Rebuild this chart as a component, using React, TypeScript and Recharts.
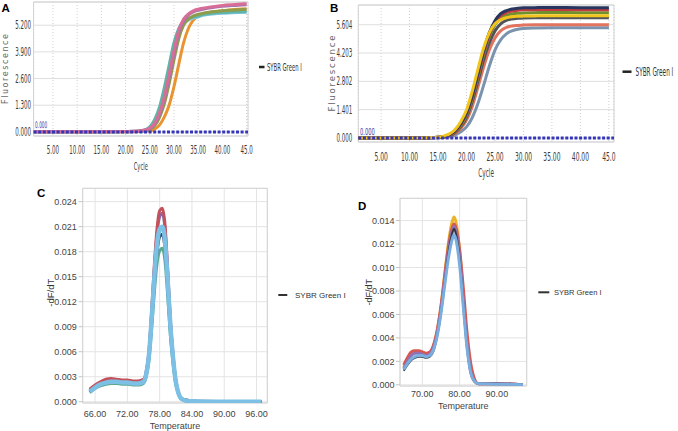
import React from 'react';
import {
  LineChart,
  Line,
  XAxis,
  YAxis,
  CartesianGrid,
  ReferenceLine,
  ReferenceArea,
} from 'recharts';

// ---------- A: amplification curves ----------
const cyclesA = [1, 5, 10, 15, 20, 22, 23, 24, 25, 26, 27, 28, 29, 30, 31, 32, 33, 34, 35, 36, 38, 40, 42, 45];
const ampAOrange = [0.01, 0.01, 0.01, 0.01, 0.01, 0.01, 0.02, 0.03, 0.05, 0.13, 0.33, 0.72, 1.3, 2.2, 3.3, 4.35, 5.05, 5.45, 5.65, 5.75, 5.85, 5.9, 5.95, 6.0];
const ampALightBlue = [0.01, 0.01, 0.01, 0.01, 0.01, 0.02, 0.04, 0.08, 0.2, 0.5, 1.05, 1.95, 3.05, 4.15, 4.95, 5.3, 5.45, 5.55, 5.6, 5.68, 5.74, 5.78, 5.8, 5.83];
const ampATeal = [0.01, 0.01, 0.01, 0.01, 0.02, 0.03, 0.05, 0.1, 0.25, 0.6, 1.2, 2.15, 3.25, 4.35, 5.05, 5.38, 5.52, 5.6, 5.65, 5.72, 5.78, 5.82, 5.84, 5.86];
const ampAOlive = [0.01, 0.01, 0.01, 0.01, 0.01, 0.02, 0.03, 0.06, 0.12, 0.3, 0.7, 1.35, 2.35, 3.5, 4.55, 5.2, 5.5, 5.65, 5.73, 5.78, 5.85, 5.9, 5.93, 5.97];
const ampAPurple = [0.01, 0.01, 0.01, 0.01, 0.02, 0.03, 0.04, 0.08, 0.16, 0.38, 0.85, 1.6, 2.65, 3.8, 4.85, 5.4, 5.7, 5.85, 5.93, 5.98, 6.06, 6.12, 6.16, 6.2];
const ampAPink = [0.01, 0.01, 0.01, 0.01, 0.02, 0.03, 0.05, 0.09, 0.18, 0.42, 0.92, 1.7, 2.8, 3.95, 4.95, 5.5, 5.75, 5.9, 5.98, 6.03, 6.1, 6.16, 6.2, 6.25];
const cycleTicks = [5, 10, 15, 20, 25, 30, 35, 40, 45];
const fluorTicksA = [0, 1.3, 2.6, 3.9, 5.2];

// ---------- B: amplification curves ----------
const cyclesB = [1, 5, 10, 13, 14, 15, 16, 17, 18, 19, 20, 21, 22, 23, 24, 25, 26, 27, 28, 29, 30, 32, 35, 40, 45];
const ampBBlueGray = [0, 0, 0, 0, 0.01, 0.01, 0.03, 0.06, 0.14, 0.3, 0.55, 1.0, 1.7, 2.6, 3.55, 4.35, 4.85, 5.15, 5.3, 5.38, 5.42, 5.44, 5.45, 5.45, 5.45];
const ampBSalmon = [0, 0, 0, 0, 0.01, 0.02, 0.04, 0.1, 0.22, 0.47, 0.88, 1.55, 2.5, 3.5, 4.35, 4.95, 5.3, 5.47, 5.54, 5.57, 5.59, 5.6, 5.6, 5.6, 5.6];
const ampBGray = [0, 0, 0, 0, 0.01, 0.02, 0.05, 0.12, 0.27, 0.56, 1.02, 1.8, 2.8, 3.85, 4.7, 5.3, 5.65, 5.82, 5.89, 5.92, 5.94, 5.95, 5.95, 5.95, 5.95];
const ampBOlive = [0, 0, 0, 0.01, 0.02, 0.03, 0.06, 0.14, 0.3, 0.62, 1.12, 1.95, 3.0, 4.1, 5.0, 5.6, 5.92, 6.07, 6.13, 6.17, 6.19, 6.2, 6.21, 6.2, 6.2];
const ampBRed = [0, 0, 0, 0.01, 0.02, 0.03, 0.07, 0.15, 0.33, 0.68, 1.2, 2.05, 3.1, 4.2, 5.1, 5.7, 6.05, 6.2, 6.28, 6.32, 6.34, 6.35, 6.36, 6.35, 6.35];
const ampBNavy = [0, 0, 0, 0.01, 0.02, 0.03, 0.07, 0.16, 0.36, 0.72, 1.25, 2.1, 3.2, 4.3, 5.2, 5.8, 6.15, 6.3, 6.38, 6.42, 6.44, 6.45, 6.46, 6.45, 6.45];
const ampBYellow = [0, 0, 0, 0.01, 0.02, 0.04, 0.09, 0.2, 0.42, 0.82, 1.38, 2.3, 3.4, 4.45, 5.2, 5.65, 5.85, 5.95, 6.0, 6.02, 6.03, 6.04, 6.05, 6.05, 6.05];
const fluorTicksB = [0, 1.401, 2.802, 4.203, 5.604];

// ---------- C: melt curves ----------
const tempsC = [65, 66, 67, 68, 69, 70, 71, 72, 73, 74, 75, 75.5, 76, 76.5, 77, 77.5, 78, 78.5, 79, 79.5, 80, 80.5, 81, 81.5, 82, 83, 84, 86, 90, 96.9];
const meltCGreen = [0.0011, 0.0016, 0.0019, 0.0021, 0.0022, 0.0022, 0.0021, 0.0021, 0.002, 0.002, 0.0022, 0.003, 0.0049, 0.0087, 0.013, 0.0165, 0.0181, 0.0184, 0.0168, 0.0126, 0.0079, 0.0045, 0.0021, 0.0009, 0.0003, 0.0001, 0, 0, 0, 0];
const meltCNavy = [0.0012, 0.0017, 0.0021, 0.0023, 0.0024, 0.0024, 0.0023, 0.0023, 0.0022, 0.0022, 0.0024, 0.0032, 0.0053, 0.0094, 0.0141, 0.0179, 0.0198, 0.0201, 0.0183, 0.0137, 0.0085, 0.0049, 0.0023, 0.001, 0.0004, 0.0002, 0.0001, 0.00005, 0.00003, 0];
const meltCPurple = [0.0014, 0.0019, 0.0023, 0.0026, 0.0027, 0.0026, 0.0025, 0.0025, 0.0024, 0.0024, 0.0026, 0.0035, 0.0058, 0.0105, 0.0158, 0.0201, 0.0222, 0.0226, 0.0206, 0.0153, 0.0095, 0.0054, 0.0025, 0.001, 0.0004, 0.0001, 0.00005, 0, 0, 0];
const meltCRed = [0.0015, 0.002, 0.0024, 0.0027, 0.0028, 0.0027, 0.0026, 0.0026, 0.0025, 0.0025, 0.0027, 0.0036, 0.006, 0.0108, 0.0163, 0.0207, 0.0229, 0.0232, 0.0212, 0.0158, 0.0098, 0.0056, 0.0026, 0.0011, 0.0004, 0.0001, 0.00005, 0, 0, 0];
const meltCLightBlue = [0.0012, 0.0017, 0.0021, 0.0023, 0.0024, 0.0024, 0.0023, 0.0023, 0.0022, 0.0022, 0.0024, 0.0033, 0.0055, 0.0098, 0.0148, 0.0188, 0.0207, 0.021, 0.0192, 0.0144, 0.009, 0.0052, 0.0024, 0.001, 0.0004, 0.0001, 0.00005, 0, 0, 0];
const tempTicksC = [66, 72, 78, 84, 90, 96];
const dfTicksC = [0, 0.003, 0.006, 0.009, 0.012, 0.015, 0.018, 0.021, 0.024];

// ---------- D: melt curves ----------
const tempsD = [65, 66, 67, 68, 69, 70, 71, 72, 73, 74, 75, 76, 77, 78, 78.5, 79, 80, 81, 82, 83, 84, 85, 86, 90, 95, 97];
const meltDYellow = [0.0015, 0.0021, 0.0026, 0.0028, 0.0028, 0.0027, 0.0026, 0.0027, 0.0033, 0.0046, 0.0067, 0.0094, 0.0121, 0.0139, 0.0143, 0.0139, 0.0115, 0.0075, 0.0036, 0.0012, 0.0003, 0.0001, 0.0001, 0.0001, 0.00005, 0];
const meltDRed = [0.0017, 0.0023, 0.0028, 0.0029, 0.0029, 0.0028, 0.0027, 0.0028, 0.0034, 0.0047, 0.0067, 0.0093, 0.0118, 0.0134, 0.0137, 0.0134, 0.0115, 0.0082, 0.0044, 0.0018, 0.0005, 0.0001, 0.0001, 0.0001, 0.00005, 0];
const meltDPurple = [0.0014, 0.002, 0.0025, 0.0027, 0.0027, 0.0026, 0.0025, 0.0026, 0.0032, 0.0044, 0.0064, 0.0089, 0.0114, 0.0131, 0.0135, 0.0131, 0.0109, 0.0071, 0.0034, 0.0011, 0.0003, 0.0001, 0.0001, 0.0001, 0.00005, 0];
const meltDBlack = [0.0012, 0.0017, 0.0021, 0.0023, 0.0024, 0.0024, 0.0023, 0.0024, 0.0029, 0.0042, 0.0062, 0.0087, 0.0112, 0.0129, 0.0133, 0.0129, 0.0107, 0.0069, 0.0032, 0.001, 0.0003, 0.0001, 0.0001, 0.0001, 0.00005, 0];
const meltDBlue = [0.0013, 0.0018, 0.0022, 0.0024, 0.0025, 0.0025, 0.0024, 0.0025, 0.003, 0.0042, 0.0061, 0.0085, 0.0108, 0.0124, 0.0128, 0.0124, 0.0102, 0.0066, 0.0031, 0.001, 0.0003, 0.0001, 0.0001, 0.00005, 0.00003, 0];
const tempTicksD = [70, 80, 90];
const dfTicksD = [0, 0.002, 0.004, 0.006, 0.008, 0.01, 0.012, 0.014];

type Series = { key: string; color: string; values: number[]; width?: number };

const seriesA: Series[] = [
  { key: 'orange', color: '#e99431', values: ampAOrange },
  { key: 'lightBlue', color: '#86c7e3', values: ampALightBlue },
  { key: 'teal', color: '#5fb5a8', values: ampATeal },
  { key: 'olive', color: '#8f9c4c', values: ampAOlive },
  { key: 'purple', color: '#a273ad', values: ampAPurple },
  { key: 'pink', color: '#d86d98', values: ampAPink },
];
const seriesB: Series[] = [
  { key: 'blueGray', color: '#7a93ae', values: ampBBlueGray },
  { key: 'salmon', color: '#e1735f', values: ampBSalmon },
  { key: 'gray', color: '#505459', values: ampBGray },
  { key: 'olive', color: '#70902d', values: ampBOlive },
  { key: 'red', color: '#c23c40', values: ampBRed },
  { key: 'navy', color: '#28365f', values: ampBNavy },
  { key: 'yellow', color: '#f1c51b', values: ampBYellow },
];
const seriesC: Series[] = [
  { key: 'green', color: '#5aa98c', values: meltCGreen },
  { key: 'navy', color: '#34425f', values: meltCNavy },
  { key: 'purple', color: '#8b67a8', values: meltCPurple },
  { key: 'red', color: '#c4505a', values: meltCRed },
  { key: 'lightBlue', color: '#7cc0e6', values: meltCLightBlue, width: 4.5 },
];
const seriesD: Series[] = [
  { key: 'yellow', color: '#eab42a', values: meltDYellow },
  { key: 'red', color: '#d8574f', values: meltDRed },
  { key: 'purple', color: '#9270b2', values: meltDPurple },
  { key: 'black', color: '#333845', values: meltDBlack, width: 2 },
  { key: 'blue', color: '#79aede', values: meltDBlue },
];

const buildRows = (xs: number[], xKey: string, series: Series[]) =>
  xs.map((x, i) => {
    const row: Record<string, number> = { [xKey]: x };
    series.forEach((s) => {
      row[s.key] = s.values[i];
    });
    return row;
  });

const rowsA = buildRows(cyclesA, 'cycle', seriesA);
const rowsB = buildRows(cyclesB, 'cycle', seriesB);
const rowsC = buildRows(tempsC, 'temp', seriesC);
const rowsD = buildRows(tempsD, 'temp', seriesD);

const DEJAVU = "'DejaVu Sans', sans-serif";
const PLAIN = "'Liberation Sans', Arial, sans-serif";

// the instrument software in A/B prints in a tall, very narrow face:
// draw DejaVu and scale it horizontally
type SqProps = {
  x: number;
  y: number;
  sx: number;
  size: number;
  anchor?: 'start' | 'middle' | 'end';
  dy?: string;
  fill?: string;
  children: React.ReactNode;
};
const Squeezed = ({ x, y, sx, size, anchor = 'start', dy, fill = '#3a3a3a', children }: SqProps) => (
  <g transform={`translate(${x},${y}) scale(${sx},1)`}>
    <text x={0} y={0} dy={dy} textAnchor={anchor} fontSize={size} fontFamily={DEJAVU} fill={fill}>
      {children}
    </text>
  </g>
);

const squeezeTick = (fmt: (v: number) => string, sx: number, anchor: 'end' | 'middle', dy: string) =>
  (props: any) => (
    <Squeezed x={props.x} y={props.y} sx={sx} size={11.5} anchor={anchor} dy={dy}>
      {fmt(props.payload.value)}
    </Squeezed>
  );

const plainTick = (fmt: (v: number) => string, anchor: 'end' | 'middle', dy: string) =>
  (props: any) => (
    <text x={props.x} y={props.y} dy={dy} textAnchor={anchor} fontSize={9} fontFamily={PLAIN} fill="#444">
      {fmt(props.payload.value)}
    </text>
  );

const cycleFmt = (v: number) => (v === 45 ? '45.0' : v.toFixed(2));

const renderLines = (series: Series[], w: number) =>
  series.map((s) => (
    <Line
      key={s.key}
      type="monotone"
      dataKey={s.key}
      stroke={s.color}
      strokeWidth={s.width ?? w}
      dot={false}
      isAnimationActive={false}
    />
  ));

const Overlay = () => (
  <svg width={678} height={431} style={{ position: 'absolute', left: 0, top: 0, pointerEvents: 'none' }}>
    <g fontFamily={PLAIN} fontWeight="bold" fontSize={11.5} fill="#000">
      <text x={1.5} y={11.7}>A</text>
      <text x={330} y={11.7}>B</text>
      <text x={37} y={196.7}>C</text>
      <text x={358} y={210}>D</text>
    </g>
    {/* legends */}
    <line x1={259} x2={264.5} y1={67} y2={67} stroke="#222" strokeWidth={2.5} />
    <Squeezed x={267} y={67} sx={0.48} size={11} dy="0.35em" fill="#333">
      SYBR Green I
    </Squeezed>
    <line x1={622.5} x2={631.5} y1={71.7} y2={71.7} stroke="#222" strokeWidth={2.5} />
    <Squeezed x={635.5} y={71.7} sx={0.5} size={11.5} dy="0.35em" fill="#333">
      SYBR Green I
    </Squeezed>
    <line x1={278.3} x2={287.3} y1={295} y2={295} stroke="#333" strokeWidth={2} />
    <text x={295} y={295} dy="0.35em" fontSize={8} fontFamily={PLAIN} fill="#333">
      SYBR Green I
    </text>
    <line x1={538.3} x2={549.3} y1={292.3} y2={292.3} stroke="#333" strokeWidth={2} />
    <text x={554} y={292.3} dy="0.35em" fontSize={7.5} fontFamily={PLAIN} fill="#333">
      SYBR Green I
    </text>
  </svg>
);

export default function App() {
  return (
    <div style={{ position: 'absolute', left: 0, top: 0, width: 678, height: 431, background: '#fff', overflow: 'hidden' }}>
      {/* A */}
      <div style={{ position: 'absolute', left: 0, top: 0 }}>
        <LineChart width={258} height={185} data={rowsA} margin={{ top: 2, right: 10, left: 0, bottom: 0 }}>
          <CartesianGrid horizontal={false} stroke="#cfcfcf" strokeDasharray="1 2" />
          <CartesianGrid vertical={false} stroke="#dedede" />
          <ReferenceArea x1={1} x2={45.3} y1={-0.2} y2={6.33} fill="none" stroke="#d2d2d2" />
          <XAxis
            type="number"
            dataKey="cycle"
            domain={[1, 45.3]}
            ticks={cycleTicks}
            interval={0}
            allowDataOverflow
            axisLine={false}
            tickSize={0}
            tickMargin={9.5}
            height={49}
            tick={squeezeTick(cycleFmt, 0.48, 'middle', '0.71em')}
            label={(p: any) => {
              const vb = p.viewBox || { x: 33.6, y: 136, width: 214.4 };
              return (
                <Squeezed x={vb.x + vb.width / 2} y={vb.y + 33.5} sx={0.47} size={11} anchor="middle" fill="#444">
                  Cycle
                </Squeezed>
              );
            }}
          />
          <YAxis
            type="number"
            domain={[-0.2, 6.33]}
            ticks={fluorTicksA}
            interval={0}
            allowDataOverflow
            width={33.6}
            axisLine={false}
            tickSize={0}
            tickMargin={2.5}
            tick={squeezeTick((v) => v.toFixed(3), 0.48, 'end', '0.355em')}
            label={(p: any) => {
              const vb = p.viewBox || { x: 0, y: 2, height: 134 };
              const cy = vb.y + vb.height / 2;
              return (
                <text x={5} y={cy} transform={`rotate(-90, 5, ${cy})`} textAnchor="middle" dy="0.35em" fontSize={8} fontFamily={DEJAVU} fill="#666" textLength={70}>
                  Fluorescence
                </text>
              );
            }}
          />
          {renderLines(seriesA, 3)}
          <ReferenceLine
            y={0}
            stroke="#3535b8"
            strokeWidth={3}
            strokeDasharray="3 1.6"
            label={(p: any) => {
              const vb = p.viewBox || { x: 33.6, y: 131.9 };
              return (
                <Squeezed x={vb.x + 1.5} y={vb.y - 4.2} sx={0.47} size={9} fill="#3a3aa8">
                  0.000
                </Squeezed>
              );
            }}
          />
        </LineChart>
      </div>

      {/* B */}
      <div style={{ position: 'absolute', left: 322, top: 0 }}>
        <LineChart width={304} height={190} data={rowsB} margin={{ top: 5, right: 12, left: 0, bottom: 0 }}>
          <CartesianGrid horizontal={false} stroke="#cfcfcf" strokeDasharray="1 2" />
          <CartesianGrid vertical={false} stroke="#dedede" />
          <ReferenceArea x1={1} x2={45.9} y1={-0.2} y2={6.58} fill="none" stroke="#d2d2d2" />
          <XAxis
            type="number"
            dataKey="cycle"
            domain={[1, 45.9]}
            ticks={cycleTicks}
            interval={0}
            allowDataOverflow
            axisLine={false}
            tickSize={0}
            tickMargin={10.5}
            height={48}
            tick={squeezeTick(cycleFmt, 0.52, 'middle', '0.71em')}
            label={(p: any) => {
              const vb = p.viewBox || { x: 36.3, y: 142, width: 255.7 };
              return (
                <Squeezed x={vb.x + vb.width / 2} y={vb.y + 34.5} sx={0.5} size={11.5} anchor="middle" fill="#444">
                  Cycle
                </Squeezed>
              );
            }}
          />
          <YAxis
            type="number"
            domain={[-0.2, 6.58]}
            ticks={fluorTicksB}
            interval={0}
            allowDataOverflow
            width={36.3}
            axisLine={false}
            tickSize={0}
            tickMargin={6}
            tick={squeezeTick((v) => v.toFixed(3), 0.48, 'end', '0.355em')}
            label={(p: any) => {
              const vb = p.viewBox || { x: 0, y: 5, height: 137 };
              const cy = vb.y + vb.height / 2;
              return (
                <text x={10.5} y={cy} transform={`rotate(-90, 10.5, ${cy})`} textAnchor="middle" dy="0.35em" fontSize={8.5} fontFamily={DEJAVU} fill="#666" textLength={76}>
                  Fluorescence
                </text>
              );
            }}
          />
          {renderLines(seriesB, 3)}
          <ReferenceLine
            y={0}
            stroke="#3535b8"
            strokeWidth={3}
            strokeDasharray="3 1.6"
            label={(p: any) => {
              const vb = p.viewBox || { x: 36.3, y: 138 };
              return (
                <Squeezed x={vb.x + 1.7} y={vb.y - 3} sx={0.55} size={9.5} fill="#3a3aa8">
                  0.000
                </Squeezed>
              );
            }}
          />
        </LineChart>
      </div>

      {/* C */}
      <div style={{ position: 'absolute', left: 0, top: 180 }}>
        <LineChart width={290} height={251} data={rowsC} margin={{ top: 8.3, right: 22.7, left: 0, bottom: 0 }}>
          <CartesianGrid stroke="#e4e4e4" />
          <ReferenceArea x1={63.7} x2={98} y1={-0.00015} y2={0.0256} fill="none" stroke="#d4d4d4" />
          <XAxis
            type="number"
            dataKey="temp"
            domain={[63.7, 98]}
            ticks={tempTicksC}
            interval={0}
            allowDataOverflow
            axisLine={false}
            tickSize={0}
            tickMargin={7.5}
            height={28}
            tick={plainTick((v) => v.toFixed(2), 'middle', '0.71em')}
            label={(p: any) => {
              const vb = p.viewBox || { x: 82.7, y: 223, width: 184.6 };
              return (
                <text x={vb.x + vb.width / 2} y={vb.y + 25.5} textAnchor="middle" fontSize={9} fontFamily={PLAIN} fill="#444">
                  Temperature
                </text>
              );
            }}
          />
          <YAxis
            type="number"
            domain={[-0.00015, 0.0256]}
            ticks={dfTicksC}
            interval={0}
            allowDataOverflow
            width={82.7}
            axisLine={false}
            tickLine={{ stroke: '#c4c4c4' }}
            tickSize={4}
            tickMargin={2}
            tick={plainTick((v) => v.toFixed(3), 'end', '0.355em')}
            label={(p: any) => {
              const vb = p.viewBox || { x: 0, y: 8.3, height: 214.7 };
              const cy = vb.y + vb.height / 2 - 3;
              return (
                <text x={51} y={cy} transform={`rotate(-90, 51, ${cy})`} textAnchor="middle" dy="0.35em" fontSize={9.5} fontFamily={PLAIN} fill="#333">
                  -dF/dT
                </text>
              );
            }}
          />
          {renderLines(seriesC, 3)}
        </LineChart>
      </div>

      {/* D */}
      <div style={{ position: 'absolute', left: 340, top: 180 }}>
        <LineChart width={338} height={251} data={rowsD} margin={{ top: 18.3, right: 151.3, left: 0, bottom: 0 }}>
          <CartesianGrid stroke="#e4e4e4" />
          <ReferenceArea x1={64} x2={98} y1={-0.0001} y2={0.0159} fill="none" stroke="#d4d4d4" />
          <XAxis
            type="number"
            dataKey="temp"
            domain={[64, 98]}
            ticks={tempTicksD}
            interval={0}
            allowDataOverflow
            axisLine={false}
            tickSize={0}
            tickMargin={5}
            height={45}
            tick={plainTick((v) => v.toFixed(2), 'middle', '0.71em')}
            label={(p: any) => {
              const vb = p.viewBox || { x: 60, y: 206, width: 126.7 };
              return (
                <text x={vb.x + vb.width / 2} y={vb.y + 22.5} textAnchor="middle" fontSize={9} fontFamily={PLAIN} fill="#444">
                  Temperature
                </text>
              );
            }}
          />
          <YAxis
            type="number"
            domain={[-0.0001, 0.0159]}
            ticks={dfTicksD}
            interval={0}
            allowDataOverflow
            width={60}
            axisLine={false}
            tickLine={{ stroke: '#c4c4c4' }}
            tickSize={4}
            tickMargin={1.5}
            tick={plainTick((v) => v.toFixed(3), 'end', '0.355em')}
            label={(p: any) => {
              const vb = p.viewBox || { x: 0, y: 18.3, height: 187.7 };
              const cy = vb.y + vb.height / 2;
              return (
                <text x={29} y={cy} transform={`rotate(-90, 29, ${cy})`} textAnchor="middle" dy="0.35em" fontSize={9} fontFamily={PLAIN} fill="#333">
                  -dF/dT
                </text>
              );
            }}
          />
          {renderLines(seriesD, 3)}
        </LineChart>
      </div>

      <Overlay />
    </div>
  );
}
